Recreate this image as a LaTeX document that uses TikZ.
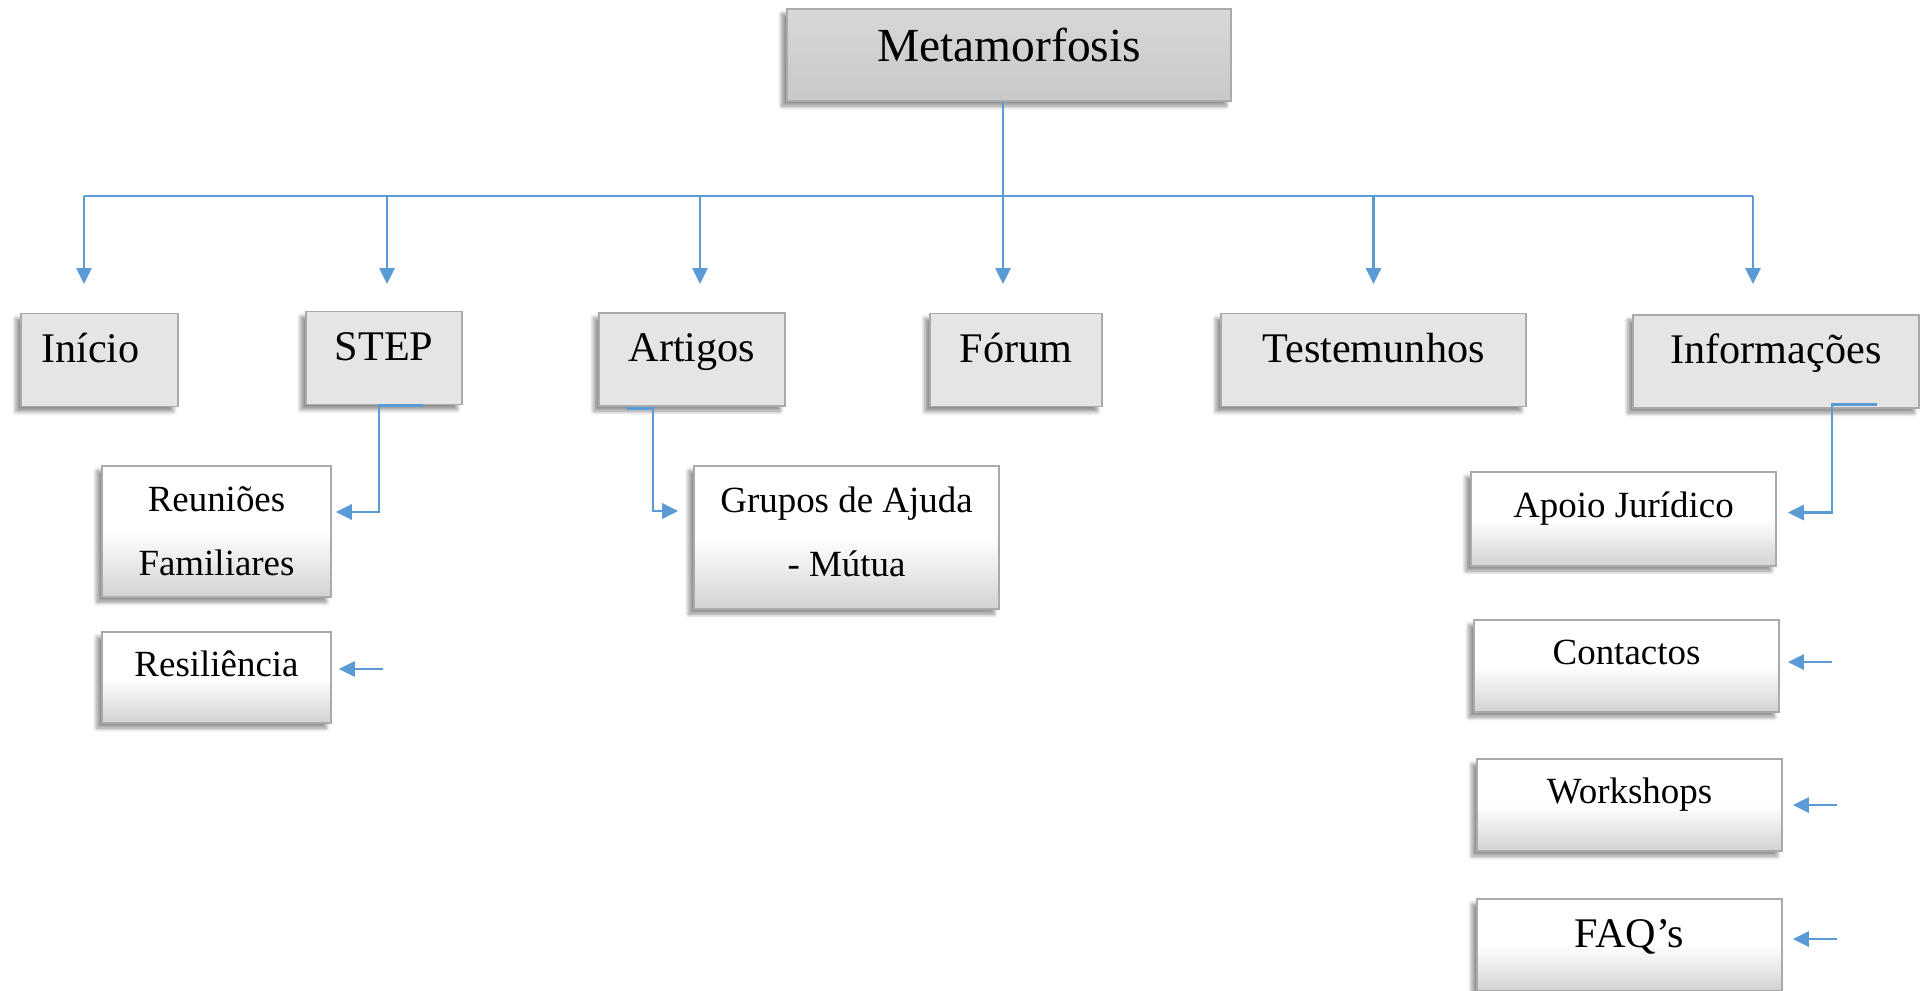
\documentclass[tikz,border=0pt]{standalone}
\usepackage{fontspec}
\setmainfont{Liberation Serif}
\usetikzlibrary{arrows.meta,positioning,calc,shadows.blur}
\definecolor{LinkBlue}{RGB}{91,155,213}
\definecolor{BoxGray}{RGB}{229,229,229}
\definecolor{EdgeGray}{RGB}{170,170,170}
\definecolor{RootTop}{RGB}{216,216,216}
\definecolor{RootBot}{RGB}{200,200,200}
\definecolor{ShadeBot}{RGB}{210,210,210}

\begin{document}
\begin{tikzpicture}[x=0.01cm,y=-0.01cm,
   boxbase/.style={rectangle,draw=EdgeGray,line width=0.4pt,inner sep=0pt,
     blur shadow={shadow xshift=-0.05cm,shadow yshift=-0.05cm,shadow blur radius=0.04cm,shadow opacity=45}},
   rootbox/.style={boxbase,top color=RootTop,bottom color=RootBot,
     minimum width=4.44cm,minimum height=0.92cm,font=\fontsize{13.5}{16}\selectfont,
     text height=0.75em,text depth=0.38em},
   topbox/.style={boxbase,fill=BoxGray,minimum height=0.93cm,
     font=\fontsize{12}{14}\selectfont,text height=0.8em,text depth=0.68em},
   subbox/.style={boxbase,top color=white,bottom color=ShadeBot,middle color=white,
     minimum width=3.05cm,minimum height=0.92cm,font=\fontsize{10.5}{18.3}\selectfont},
   oneline/.style={text height=0.7em,text depth=0.78em},
   twoline/.style={align=center},
   link/.style={draw=LinkBlue,line width=0.8pt},
   arr/.style={link,-{Triangle[length=0.16cm,width=0.15cm]}}]
  \useasboundingbox (0,0) rectangle (1928,990);
  % site root and main menu
  \node[rootbox] (meta) at (1009,55) {Metamorfosis};
  \node[topbox,minimum width=1.57cm] (inicio) at (99.5,360) {Início\kern0.18cm};
  \node[topbox,minimum width=1.56cm] (step) at (384,358) {STEP};
  \node[topbox,minimum width=1.86cm] (artigos) at (692,359.5) {Artigos};
  \node[topbox,minimum width=1.72cm] (forum) at (1016,360) {Fórum};
  \node[topbox,minimum width=3.05cm] (testemunhos) at (1373.5,360) {Testemunhos};
  \node[topbox,minimum width=2.86cm] (info) at (1776,361.5) {Informações};
  % sub pages
  \node[subbox,twoline,minimum width=2.29cm,minimum height=1.31cm] (reunioes) at (216.5,531.5) {Reuniões\\Familiares};
  \node[subbox,oneline,minimum width=2.29cm,minimum height=0.91cm] (resil) at (216.5,677.5) {Resiliência};
  \node[subbox,twoline,minimum height=1.43cm,text depth=0.12cm] (grupos) at (846.5,537.5) {Grupos de Ajuda\\- Mútua};
  \node[subbox,oneline,minimum height=0.94cm] (apoio) at (1623.5,519) {Apoio Jurídico};
  \node[subbox,oneline] (contactos) at (1626.5,666) {Contactos};
  \node[subbox,oneline] (workshops) at (1629.5,805) {Workshops};
  \node[subbox,font=\fontsize{12}{14}\selectfont,text height=0.8em,text depth=0.68em] (faqs) at (1629.5,945) {FAQ’s};
  % bus from the root
  \coordinate (hub) at (1003,196);
  \foreach \n/\x in {tInicio/84,tStep/387,tArtigos/700,tForum/1003,tTest/1373.5,tInfo/1753}
    \coordinate (\n) at (\x,284);
  \draw[link] (meta.south -| hub) -- (hub);
  \draw[link] (tInicio |- hub) -- (tInfo |- hub);
  \foreach \n in {tInicio,tStep,tArtigos,tForum,tTest,tInfo}
    \draw[arr] (\n |- hub) -- (\n);
  % elbows to sub pages
  \draw[arr] ([xshift=0.39cm]step.south) -- ++(-44,0) |- ([xshift=0.04cm,yshift=0.195cm]reunioes.east);
  \draw[arr] ([xshift=-0.65cm,yshift=-0.02cm]artigos.south) -- ++(26,0) |- ([xshift=-0.15cm,yshift=0.265cm]grupos.west);
  \draw[arr] ([xshift=1.01cm,yshift=0.04cm]info.south) -- ++(-45,0) |- ([xshift=0.11cm,yshift=0.065cm]apoio.east);
  \foreach \b/\s/\t/\dy in {resil/0.51/0.07/0.085,contactos/0.52/0.08/0.04,workshops/0.54/0.10/0,faqs/0.54/0.10/0.06}
    \draw[arr] ([xshift=\s cm,yshift=\dy cm]\b.east) -- ([xshift=\t cm,yshift=\dy cm]\b.east);
\end{tikzpicture}
\end{document}
